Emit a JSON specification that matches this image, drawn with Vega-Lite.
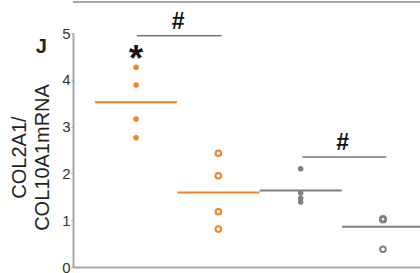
{
  "$schema": "https://vega.github.io/schema/vega-lite/v6.json",
  "width": 347,
  "height": 234,
  "autosize": {"type": "none"},
  "padding": {"left": 73, "top": 33, "right": 0, "bottom": 6},
  "config": {"view": {"stroke": null}, "font": "Liberation Sans"},
  "datasets": {
    "pts": [
      {"pos": 1, "cell": "A", "treat": "plus", "v": 4.27},
      {"pos": 1, "cell": "A", "treat": "plus", "v": 3.89},
      {"pos": 1, "cell": "A", "treat": "plus", "v": 3.16},
      {"pos": 1, "cell": "A", "treat": "plus", "v": 2.76},
      {"pos": 2, "cell": "A", "treat": "minus", "v": 2.43},
      {"pos": 2, "cell": "A", "treat": "minus", "v": 1.95},
      {"pos": 2, "cell": "A", "treat": "minus", "v": 1.18},
      {"pos": 2, "cell": "A", "treat": "minus", "v": 0.81},
      {"pos": 3, "cell": "B", "treat": "plus", "v": 2.1},
      {"pos": 3, "cell": "B", "treat": "plus", "v": 1.58},
      {"pos": 3, "cell": "B", "treat": "plus", "v": 1.47},
      {"pos": 3, "cell": "B", "treat": "plus", "v": 1.39},
      {"pos": 4, "cell": "B", "treat": "minus", "v": 1.03},
      {"pos": 4, "cell": "B", "treat": "minus", "v": 1.02},
      {"pos": 4, "cell": "B", "treat": "minus", "v": 1.01},
      {"pos": 4, "cell": "B", "treat": "minus", "v": 0.38}
    ],
    "brackets": [
      {"from": 1.01, "to": 2.04, "v": 4.94},
      {"from": 3.02, "to": 4.04, "v": 2.35}
    ],
    "hashes": [
      {"pos": 1.51, "v": 5.24, "label": "#"},
      {"pos": 3.51, "v": 2.65, "label": "#"}
    ],
    "stars": [{"pos": 1, "v": 4.6, "label": "*"}],
    "panel": [{"pos": -0.15, "v": 4.7, "label": "J"}],
    "prev": [{"from": 0.234, "to": 4.45, "v": 5.66}]
  },
  "layer": [
    {
      "data": {"name": "pts"},
      "transform": [{"filter": "datum.treat === 'plus'"}],
      "mark": {"type": "point", "filled": true, "size": 30, "opacity": 1},
      "encoding": {
        "x": {
          "field": "pos", "type": "quantitative",
          "scale": {"domain": [0.234, 4.45], "nice": false, "zero": false},
          "axis": {"labels": false, "ticks": false, "title": null, "grid": false, "domainColor": "#a6a6a6", "domainWidth": 2}
        },
        "y": {
          "field": "v", "type": "quantitative",
          "scale": {"domain": [0, 5], "nice": false},
          "axis": {
            "values": [0, 1, 2, 3, 4, 5], "grid": false,
            "domainColor": "#a6a6a6", "domainWidth": 2,
            "tickColor": "#a6a6a6", "tickSize": 2, "tickWidth": 1,
            "labelFontSize": 15, "labelColor": "#333333", "labelPadding": 1,
            "title": ["COL2A1/", "COL10A1mRNA"],
            "titleFontSize": 20, "titleFontWeight": "normal", "titleColor": "#222222",
            "titleAngle": 270, "titleBaseline": "bottom", "titleAlign": "center",
            "titleX": -44, "titleY": 124, "titleLineHeight": 23
          }
        },
        "color": {"field": "cell", "type": "nominal", "scale": {"domain": ["A", "B"], "range": ["#f5821f", "#7f7f7f"]}, "legend": null}
      }
    },
    {
      "data": {"name": "pts"},
      "transform": [{"filter": "datum.treat === 'minus'"}],
      "mark": {"type": "point", "filled": false, "size": 32, "strokeWidth": 2, "opacity": 1},
      "encoding": {
        "x": {"field": "pos", "type": "quantitative"},
        "y": {"field": "v", "type": "quantitative"},
        "color": {"field": "cell", "type": "nominal", "legend": null}
      }
    },
    {
      "data": {"name": "pts"},
      "transform": [{"aggregate": [{"op": "mean", "field": "v", "as": "m"}], "groupby": ["pos", "cell"]}],
      "mark": {"type": "tick", "orient": "horizontal", "size": 82, "thickness": 2, "opacity": 1, "clip": true},
      "encoding": {
        "x": {"field": "pos", "type": "quantitative"},
        "y": {"field": "m", "type": "quantitative"},
        "color": {"field": "cell", "type": "nominal", "legend": null}
      }
    },
    {
      "mark": {"type": "rule", "strokeDash": [2, 2], "color": "#888888", "strokeWidth": 1.5},
      "encoding": {"y": {"datum": 1, "type": "quantitative"}}
    },
    {
      "data": {"name": "brackets"},
      "mark": {"type": "rule", "color": "#333333", "strokeWidth": 1},
      "encoding": {
        "x": {"field": "from", "type": "quantitative"},
        "x2": {"field": "to"},
        "y": {"field": "v", "type": "quantitative"}
      }
    },
    {
      "data": {"name": "prev"},
      "mark": {"type": "rule", "color": "#a6a6a6", "strokeWidth": 2},
      "encoding": {
        "x": {"field": "from", "type": "quantitative"},
        "x2": {"field": "to"},
        "y": {"field": "v", "type": "quantitative"}
      }
    },
    {
      "data": {"name": "hashes"},
      "mark": {"type": "text", "fontSize": 23, "fontWeight": "bold", "color": "#111111", "baseline": "middle", "align": "center"},
      "encoding": {
        "x": {"field": "pos", "type": "quantitative"},
        "y": {"field": "v", "type": "quantitative"},
        "text": {"field": "label"}
      }
    },
    {
      "data": {"name": "stars"},
      "mark": {"type": "text", "fontSize": 36, "fontWeight": "bold", "color": "#111111", "baseline": "middle", "align": "center", "dy": 8},
      "encoding": {
        "x": {"field": "pos", "type": "quantitative"},
        "y": {"field": "v", "type": "quantitative"},
        "text": {"field": "label"}
      }
    },
    {
      "data": {"name": "panel"},
      "mark": {"type": "text", "fontSize": 20, "fontWeight": "bold", "color": "#222222", "baseline": "middle", "align": "center"},
      "encoding": {
        "x": {"field": "pos", "type": "quantitative"},
        "y": {"field": "v", "type": "quantitative"},
        "text": {"field": "label"}
      }
    }
  ]
}
